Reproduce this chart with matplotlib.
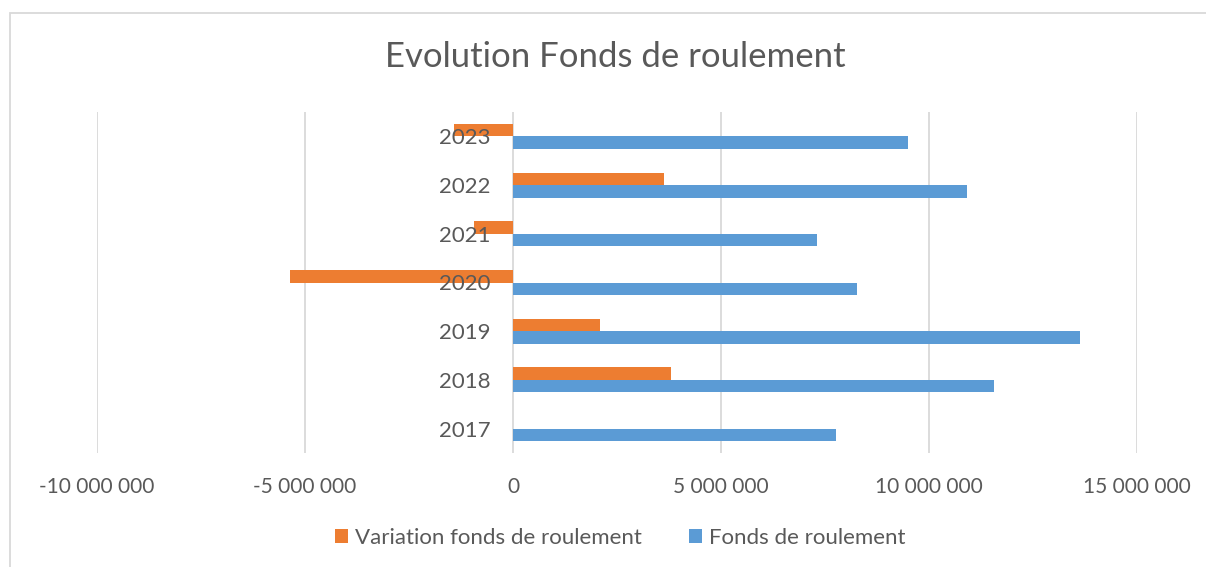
import matplotlib
matplotlib.use("Agg")
import matplotlib.pyplot as plt
from matplotlib.patches import Rectangle, Patch
from matplotlib.ticker import FuncFormatter
import numpy as np

years = ["2017", "2018", "2019", "2020", "2021", "2022", "2023"]
fonds_roulement = [7760000, 11560000, 13620000, 8270000, 7310000, 10910000, 9500000]
variation_fonds = [0, 3810000, 2080000, -5360000, -940000, 3620000, -1430000]
x_ticks = [-10000000, -5000000, 0, 5000000, 10000000, 15000000]

ORANGE = "#ED7D31"
BLUE = "#5B9BD5"
TXT = "#595959"
GRID = "#D9D9D9"

plt.rcParams["font.family"] = ["Lato", "DejaVu Sans"]

W, H = 1206, 567
fig = plt.figure(figsize=(W / 100, H / 100), dpi=100)
fig.patch.set_facecolor("white")

# chart border (right and bottom edges fall outside the image)
fig.patches.append(Rectangle((9.5 / W, 1 - 600 / H), (1250 - 9.5) / W, (600 - 12.5) / H,
                             transform=fig.transFigure, fill=False,
                             edgecolor=GRID, linewidth=1.3))

ax = fig.add_axes([97 / W, 1 - 453 / H, (1137 - 97) / W, (453 - 112) / H])
y = np.arange(len(years))
h = 0.256
ax.barh(y + h / 2, variation_fonds, height=h, color=ORANGE, zorder=2,
        label="Variation fonds de roulement")
ax.barh(y - h / 2, fonds_roulement, height=h, color=BLUE, zorder=2,
        label="Fonds de roulement")

ax.set_xlim(-10000000, 15000000)
ax.set_ylim(-0.5, len(years) - 0.5)
ax.set_xticks(x_ticks)
ax.xaxis.set_major_formatter(FuncFormatter(lambda v, p: f"{int(v):,}".replace(",", " ")))
ax.set_yticks(y)
ax.set_yticklabels(years)

ax.grid(axis="x", color=GRID, linewidth=1.3, zorder=0)
for s in ax.spines.values():
    s.set_visible(False)
ax.spines["left"].set_position(("data", 0))
ax.tick_params(axis="both", length=0, colors=TXT)
ax.tick_params(axis="x", pad=17, labelsize=15)
ax.tick_params(axis="y", pad=16, labelsize=16)
ax.yaxis.set_zorder(5)

fig.text(615 / W, 1 - 57 / H, "Evolution Fonds de roulement", ha="center", va="center",
         fontsize=25, color=TXT)

handles = [Patch(facecolor=ORANGE, label="Variation fonds de roulement"),
           Patch(facecolor=BLUE, label="Fonds de roulement")]
fig.legend(handles=handles, loc="center", bbox_to_anchor=(620 / W, 1 - 537.5 / H),
           ncol=2, frameon=False, fontsize=16, labelcolor=TXT,
           handlelength=0.61, handleheight=0.61, handletextpad=0.3,
           columnspacing=2.1)

fig.savefig("out.png", dpi=100)
